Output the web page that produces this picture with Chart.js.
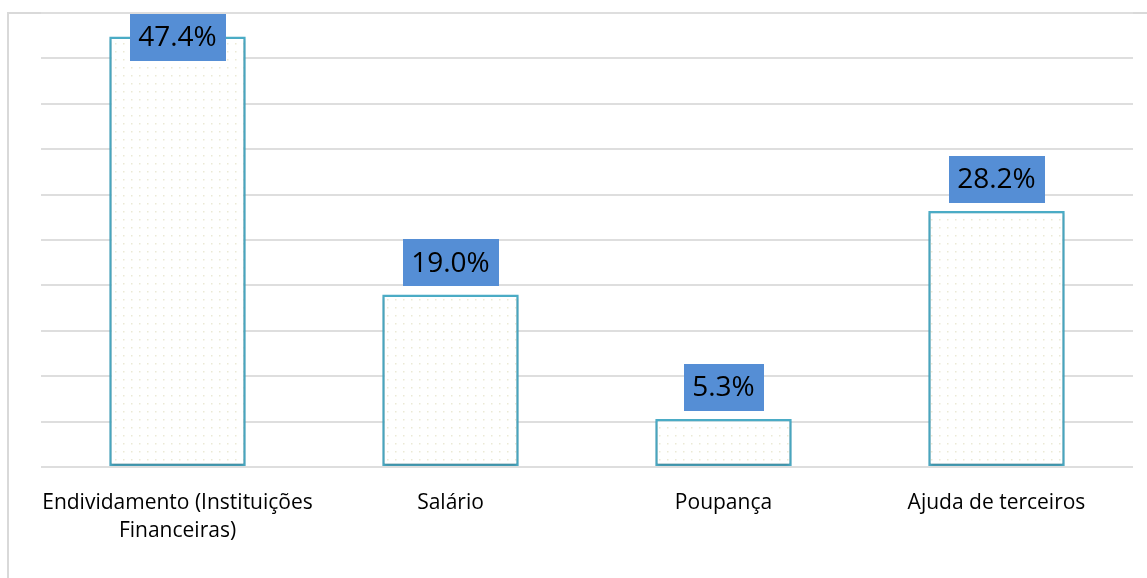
<!DOCTYPE html>
<html>
<head>
<meta charset="utf-8">
<script src="https://cdn.jsdelivr.net/npm/chart.js@4/dist/chart.umd.min.js"></script>
<style>
  html, body { margin: 0; padding: 0; background: #fff; }
  #wrap { position: relative; width: 1147px; height: 578px; }
</style>
</head>
<body>
<div id="wrap"><canvas id="chart" width="1147" height="578"></canvas></div>
<script>
const categories = [
  ['Endividamento (Instituições', 'Financeiras)'],
  'Salário',
  'Poupança',
  'Ajuda de terceiros'
];
const shares = [47.4, 19.0, 5.3, 28.2];
const yMax = 50;
const yStep = 5;

// small dotted tile used as the bar fill
function dotPattern() {
  const c = document.createElement('canvas');
  c.width = 8; c.height = 8;
  const g = c.getContext('2d');
  g.fillStyle = '#ffffff';
  g.fillRect(0, 0, 8, 8);
  g.fillStyle = '#ebe9d5';
  g.fillRect(3, 3, 1.5, 1.5);
  const ctx = document.getElementById('chart').getContext('2d');
  return ctx.createPattern(c, 'repeat');
}

// outer frame of the chart (only left and top edges fall inside the page)
const framePlugin = {
  id: 'frame',
  beforeDraw(chart) {
    const ctx = chart.ctx;
    ctx.save();
    ctx.strokeStyle = '#d9d9d9';
    ctx.lineWidth = 2;
    ctx.beginPath();
    ctx.moveTo(8, chart.height);
    ctx.lineTo(8, 13);
    ctx.lineTo(chart.width, 13);
    ctx.stroke();
    ctx.restore();
  }
};

// soft shadow under the bars
const shadowPlugin = {
  id: 'barShadow',
  beforeDatasetsDraw(chart) {
    const ctx = chart.ctx;
    ctx.save();
    ctx.shadowColor = 'rgba(0,0,0,0.2)';
    ctx.shadowBlur = 3;
    ctx.shadowOffsetY = 2;
  },
  afterDatasetsDraw(chart) {
    chart.ctx.restore();
  }
};

// value boxes above each bar
const valueBoxes = {
  id: 'valueBoxes',
  afterDatasetsDraw(chart) {
    const ctx = chart.ctx;
    const meta = chart.getDatasetMeta(0);
    const area = chart.chartArea;
    ctx.save();
    ctx.font = '28px "Open Sans", sans-serif';
    ctx.textAlign = 'center';
    ctx.textBaseline = 'middle';
    meta.data.forEach((bar, i) => {
      const txt = shares[i].toFixed(1) + '%';
      const w = ctx.measureText(txt).width + 17;
      const h = 47;
      let top = bar.y - 8 - h;
      if (top < area.top + 1) top = area.top + 1;
      ctx.fillStyle = '#558ed5';
      ctx.fillRect(Math.round(bar.x - w / 2), Math.round(top), Math.round(w), h);
      ctx.fillStyle = '#000000';
      ctx.fillText(txt, bar.x, top + h / 2 + 1);
    });
    ctx.restore();
  }
};

new Chart(document.getElementById('chart'), {
  type: 'bar',
  data: {
    labels: categories,
    datasets: [{
      data: shares,
      backgroundColor: dotPattern(),
      borderColor: '#4bacc6',
      borderWidth: 2.5,
      borderSkipped: false,
      categoryPercentage: 1,
      barPercentage: 0.5
    }]
  },
  options: {
    responsive: false,
    animation: false,
    layout: { padding: { left: 41, right: 14, top: 13, bottom: 0 } },
    plugins: {
      legend: { display: false },
      tooltip: { enabled: false }
    },
    scales: {
      x: {
        grid: { display: false },
        border: { display: false },
        ticks: {
          color: '#000000',
          font: { family: '"Open Sans", sans-serif', size: 21, lineHeight: 1.33 },
          padding: 14,
          maxRotation: 0,
          autoSkip: false
        },
        afterFit(scale) { scale.height = 111; }
      },
      y: {
        min: 0,
        max: yMax,
        ticks: { display: false, stepSize: yStep },
        grid: { color: '#dedede', lineWidth: 2, drawTicks: false },
        border: { display: false },
        afterFit(scale) { scale.width = 0; }
      }
    }
  },
  plugins: [framePlugin, shadowPlugin, valueBoxes]
});
</script>
</body>
</html>
